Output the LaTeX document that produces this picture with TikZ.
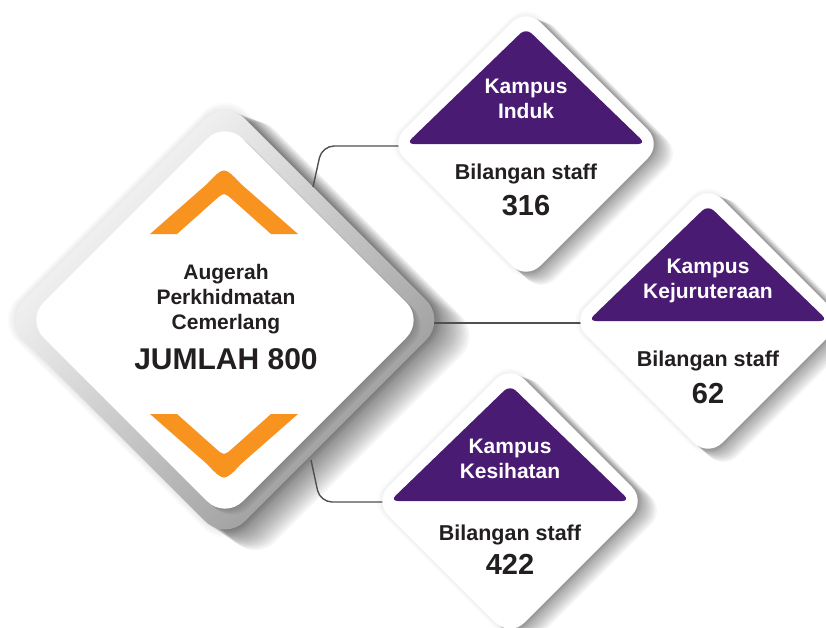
\documentclass[tikz,border=0pt]{standalone}
\usepackage{fontspec}
\setmainfont{Liberation Sans}
\definecolor{ungu}{RGB}{74,27,114}
\definecolor{oren}{RGB}{247,147,30}
\definecolor{tinta}{RGB}{35,31,32}
\definecolor{garis}{RGB}{80,80,80}
% rounded diamond path: centre x, centre y, half diagonal
\newcommand\rdia[3]{({#1-(#3)},{#2}) -- ({#1},{#2-(#3)}) -- ({#1+(#3)},{#2}) -- ({#1},{#2+(#3)}) -- cycle}
\newcommand\fsz[2]{\fontsize{#1}{#2}\selectfont}

\begin{document}
\begin{tikzpicture}[x=1pt,y=-1pt,
  kad/.style={fill=white,rounded corners=20pt},
  atap/.style={fill=ungu,rounded corners=8pt},
  bayang/.style={black,opacity=.034},
  halo/.style={black,opacity=.012},
  link/.style={draw=garis,line width=1.4pt,rounded corners=12pt},
  tajuk/.style={text=white,font=\bfseries\fsz{21}{25}},
  teks/.style={text=tinta,font=\bfseries\fsz{21}{25}},
  kiraan/.style={text=tinta,font=\bfseries\fsz{21.5}{26}},
  nilai/.style={text=tinta,font=\bfseries\fsz{29}{33}}]
  \useasboundingbox (0,0) rectangle (826,627);
  \fill[white] (0,0) rectangle (826,627);

  % big diamond
  \foreach \s in {1,...,7}{\fill[halo,rounded corners=30pt] \rdia{225}{320}{221+1.3*\s};}
  \foreach \s in {1,...,16}{\fill[bayang,rounded corners=28pt,shift={(1.9*\s,1.0*\s)}] \rdia{225}{320}{221+0.3*\s};}
  \shade[rounded corners=28pt,top color=white,bottom color=black!42,shading angle=45] \rdia{225}{320}{221};
  \foreach \s in {1,...,6}{\fill[black,opacity=.03,rounded corners=25pt,shift={(1.2*\s,1.0*\s)}] \rdia{225}{320}{199};}
  \fill[white,rounded corners=25pt] \rdia{225}{320}{199};
  \coordinate (agung) at (225,320);

  % chevrons
  \fill[oren] (150,234) -- (207,184) .. controls (224,166) .. (241,184) -- (298,234) -- (271,234)
    -- (234,201) .. controls (224,192) .. (214,201) -- (177,234) -- cycle;
  \fill[oren] (150,414) -- (207,464) .. controls (224,482) .. (241,464) -- (298,414) -- (271,414)
    -- (234,447) .. controls (224,456) .. (214,447) -- (177,414) -- cycle;

  \node[teks,anchor=base] (aw1) at (226,279) {Augerah};
  \node[teks,anchor=base] (aw2) at (226,304) {Perkhidmatan};
  \node[teks,anchor=base] (aw3) at (226,329) {Cemerlang};
  \node[text=tinta,font=\bfseries\fsz{30}{34},anchor=base] (jumlah) at (226,369) {JUMLAH 800};

  % connectors
  \coordinate (j1) at (313,187);
  \coordinate (j2) at (434,323);
  \coordinate (j3) at (311,460);
  \coordinate (induk) at (526,144);
  \coordinate (juru) at (708,321);
  \coordinate (sihat) at (510,501);
  \coordinate (induk-w) at (404,146);
  \coordinate (juru-w) at (586,323);
  \coordinate (sihat-w) at (390,502);
  \draw[link] (j1) -- ([xshift=9pt]j1 |- induk-w) -- (induk-w);
  \draw[link] (j2) -- (juru-w);
  \draw[link] (j3) -- ([xshift=9pt]j3 |- sihat-w) -- (sihat-w);

  % campus cards
  \foreach \s in {1,...,5}{
    \fill[halo,rounded corners=22pt] \rdia{526}{144}{136+1.2*\s};
    \fill[halo,rounded corners=22pt] \rdia{708}{321}{136+1.2*\s};
    \fill[halo,rounded corners=22pt] \rdia{510}{501}{136+1.2*\s};}
  \foreach \s in {1,...,12}{
    \fill[bayang,rounded corners=20pt,shift={(1.3*\s,0.8*\s)}] \rdia{526}{144}{136+0.3*\s};
    \fill[bayang,rounded corners=20pt,shift={(1.3*\s,0.8*\s)}] \rdia{708}{321}{136+0.3*\s};
    \fill[bayang,rounded corners=20pt,shift={(1.3*\s,0.8*\s)}] \rdia{510}{501}{136+0.3*\s};}
  \fill[kad] \rdia{526}{144}{136};
  \fill[kad] \rdia{708}{321}{136};
  \fill[kad] \rdia{510}{501}{136};
  \fill[atap] (526-120,144) -- (526,144-116) -- (526+120,144) -- cycle;
  \fill[atap] (708-120,321) -- (708,321-116) -- (708+120,321) -- cycle;
  \fill[atap] (510-120,501) -- (510,501-116) -- (510+120,501) -- cycle;

  \node[tajuk,anchor=base] (i1) at (526,93) {Kampus};
  \node[tajuk,anchor=base] (i2) at (526,118) {Induk};
  \node[kiraan,anchor=base] (i3) at (526,179) {Bilangan staff};
  \node[nilai,anchor=base] (i4) at (526,215) {316};

  \node[tajuk,anchor=base] (k1) at (708,273) {Kampus};
  \node[tajuk,anchor=base] (k2) at (708,298) {Kejuruteraan};
  \node[kiraan,anchor=base] (k3) at (708,366) {Bilangan staff};
  \node[nilai,anchor=base] (k4) at (708,403) {62};

  \node[tajuk,anchor=base] (s1) at (510,453) {Kampus};
  \node[tajuk,anchor=base] (s2) at (510,478) {Kesihatan};
  \node[kiraan,anchor=base] (s3) at (510,540) {Bilangan staff};
  \node[nilai,anchor=base] (s4) at (510,574) {422};
\end{tikzpicture}
\end{document}
